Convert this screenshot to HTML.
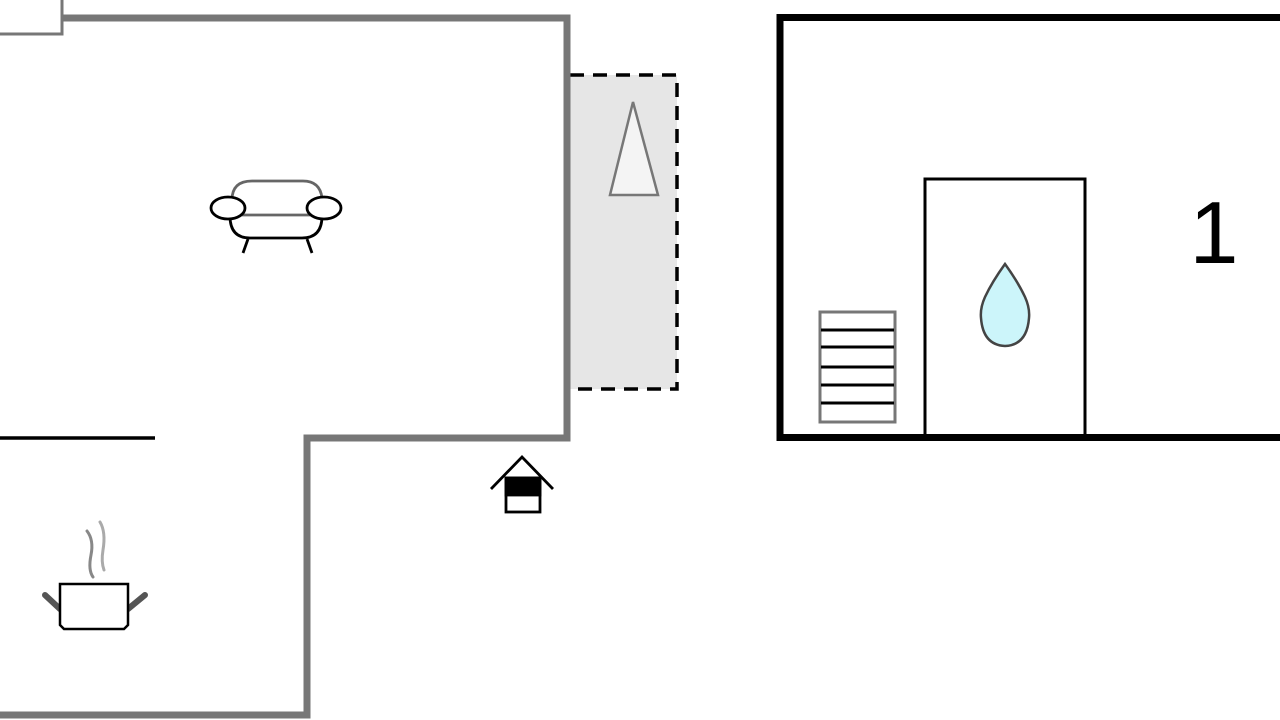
<!DOCTYPE html>
<html><head><meta charset="utf-8"><style>html,body{margin:0;padding:0;background:#fff}svg{display:block}</style></head>
<body>
<svg width="1280" height="720" viewBox="0 0 1280 720" xmlns="http://www.w3.org/2000/svg">
<rect x="0" y="0" width="1280" height="720" fill="#fff"/>
<rect x="570" y="75" width="107" height="314" fill="#e6e6e6"/>
<path d="M570 75 H677 V389 H570" fill="none" stroke="#000" stroke-width="3.5" stroke-dasharray="14,9"/>
<polygon points="633,102 610,195 658,195" fill="#f4f4f4" stroke="#777" stroke-width="2.5"/>
<rect x="-2" y="-2" width="64" height="36" fill="#fff" stroke="#777" stroke-width="3"/>
<path d="M62 18 H567 V438 H307 V715 H0" fill="none" stroke="#777" stroke-width="7"/>
<line x1="0" y1="438" x2="155" y2="438" stroke="#000" stroke-width="3.5"/>
<g fill="none" stroke-width="2.8">
<path d="M232 200 Q232 181 252 181 H303 Q320 181 322 198" stroke="#666"/>
<line x1="240" y1="215" x2="312" y2="215" stroke="#666"/>
<path d="M230 216 Q230 238 250 238 H302 Q322 238 322 216" stroke="#000"/>
<ellipse cx="228" cy="208" rx="17" ry="11" fill="#fff" stroke="#000"/>
<ellipse cx="324" cy="208" rx="17" ry="11" fill="#fff" stroke="#000"/>
<line x1="248" y1="239" x2="243" y2="253" stroke="#000"/>
<line x1="307" y1="239" x2="312" y2="253" stroke="#000"/>
</g>
<g stroke="#000" stroke-width="2.8" fill="none">
<polyline points="491,489 522,457 553,489"/>
<rect x="506" y="478" width="34" height="34" fill="#fff"/>
<rect x="506" y="478" width="34" height="17" fill="#000"/>
</g>
<g fill="none" stroke-linecap="round">
<path d="M87 531 Q94 540 91 555 Q88 570 93 577" stroke="#888" stroke-width="3"/>
<path d="M100 522 Q106 532 103 550 Q101 562 104 570" stroke="#aaa" stroke-width="3"/>
<line x1="45" y1="595" x2="60" y2="609" stroke="#555" stroke-width="6"/>
<line x1="145" y1="595" x2="128" y2="609" stroke="#555" stroke-width="6"/>
<path d="M60 584 H128 V625 L124 629 H64 L60 625 Z" fill="#fff" stroke="#000" stroke-width="2.5"/>
</g>
<path d="M1282 17.5 H780 V437.5 H1282" fill="none" stroke="#000" stroke-width="7"/>
<path d="M925 437 V179 H1085 V437" fill="none" stroke="#000" stroke-width="3"/>
<rect x="820" y="312" width="75" height="110" fill="#fff" stroke="#777" stroke-width="3"/>
<g stroke="#000" stroke-width="3">
<line x1="821" y1="330" x2="894" y2="330"/>
<line x1="821" y1="347" x2="894" y2="347"/>
<line x1="821" y1="367" x2="894" y2="367"/>
<line x1="821" y1="385" x2="894" y2="385"/>
<line x1="821" y1="403" x2="894" y2="403"/>
</g>
<path d="M1005 264 Q992 282 985 297 Q980 308 981 318 Q983 345 1005 346 Q1027 345 1029 318 Q1030 308 1025 297 Q1018 282 1005 264 Z" fill="#ccf5fa" stroke="#444" stroke-width="2.5"/>
<text x="1214" y="263" font-family="Liberation Sans, sans-serif" font-size="88" text-anchor="middle" fill="#000">1</text>
</svg>
</body></html>
